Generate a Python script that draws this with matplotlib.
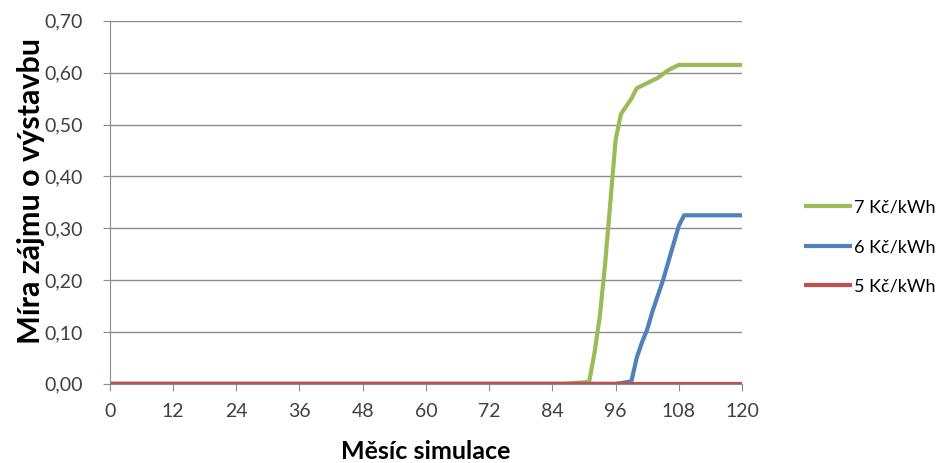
import matplotlib.pyplot as plt

plt.rcParams['font.family'] = ['Lato', 'DejaVu Sans']

# months (vertices of the lines) and values
months_7 = [0, 86, 90, 91, 92, 93, 94, 95, 96, 97, 98, 99, 100, 102, 104, 106, 108, 120]
vals_7 = [0, 0, 0.003, 0.005, 0.06, 0.13, 0.23, 0.35, 0.47, 0.52, 0.535, 0.55, 0.57, 0.58, 0.59, 0.605, 0.615, 0.615]

months_6 = [0, 96, 98, 99, 100, 101, 102, 103, 104, 105, 106, 107, 108, 109, 120]
vals_6 = [0, 0, 0.003, 0.005, 0.05, 0.08, 0.105, 0.14, 0.17, 0.2, 0.235, 0.27, 0.305, 0.325, 0.325]

months_5 = [0, 120]
vals_5 = [0, 0]

labels = ['7 Kč/kWh', '6 Kč/kWh', '5 Kč/kWh']
colors = ['#9BBB59', '#4F81BD', '#C0504D']

fig = plt.figure(figsize=(9.37, 4.63), dpi=100)
ax = fig.add_axes([0.117, 0.171, 0.675, 0.784])

ax.plot(months_7, vals_7, color=colors[0], lw=3, label=labels[0], solid_capstyle='butt')
ax.plot(months_6, vals_6, color=colors[1], lw=3, label=labels[1], solid_capstyle='butt')
ax.plot(months_5, vals_5, color=colors[2], lw=3, label=labels[2], solid_capstyle='butt')

ax.set_xlim(0, 120)
ax.set_ylim(0, 0.70)
ax.set_xticks(range(0, 121, 12))
yt = [i / 10 for i in range(8)]
ax.set_yticks(yt)
ax.set_yticklabels([f'{v:.2f}'.replace('.', ',') for v in yt])
ax.yaxis.grid(True, color='#8c8c8c', lw=1)
ax.set_axisbelow(True)
for s in ['top', 'right']:
    ax.spines[s].set_visible(False)
for s in ['left', 'bottom']:
    ax.spines[s].set_color('#8c8c8c')
ax.tick_params(colors='#8c8c8c', labelcolor='#404040', labelsize=14, length=5)
ax.tick_params(axis='y', pad=14)
ax.tick_params(axis='x', pad=9)

ax.set_xlabel('Měsíc simulace', fontsize=18, fontweight='bold', va='center')
ax.xaxis.set_label_coords(0.5, -0.187)
ax.set_ylabel('Míra zájmu o výstavbu', fontsize=22, fontweight='bold', va='center')
ax.yaxis.set_label_coords(-0.125, 0.53)

fig.legend(loc='center left', bbox_to_anchor=(0.848, 0.4665), frameon=False, borderpad=0,
           fontsize=13, handlelength=2.7, handletextpad=0.1, labelspacing=1.3)

fig.savefig('out.png', dpi=100)
